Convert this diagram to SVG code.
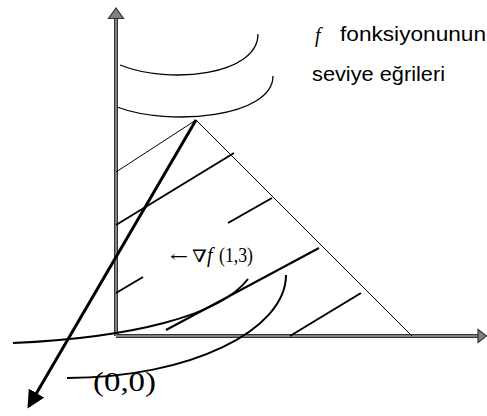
<svg xmlns="http://www.w3.org/2000/svg" width="487" height="416" viewBox="0 0 487 416">
<style>
.axo{stroke:#333;stroke-width:4;fill:none}
.axi{stroke:#808080;stroke-width:2;fill:none}
.head{fill:#808080;stroke:#333;stroke-width:1.2}
.thin{stroke:#000;stroke-width:1;fill:none}
.curve{stroke:#000;stroke-width:1.3;fill:none}
.curve2{stroke:#000;stroke-width:2;fill:none}
.hatch{stroke:#000;stroke-width:2;fill:none}
.sans{font-family:"Liberation Sans",Arial,sans-serif;font-size:20px;fill:#000}
.serif{font-family:"Liberation Serif","Times New Roman",serif;fill:#000}
</style>
<defs>
<marker id="ah" markerWidth="6" markerHeight="6" refX="5" refY="3" orient="auto" markerUnits="strokeWidth">
<path d="M0,0 L6,3 L0,6 Z" fill="#000"/>
</marker>
</defs>
<g id="axes">
<line class="axo" x1="116" y1="18" x2="116" y2="336"/>
<line class="axo" x1="116" y1="336" x2="478" y2="336"/>
<line class="axi" x1="116" y1="18" x2="116" y2="336"/>
<line class="axi" x1="116" y1="336" x2="478" y2="336"/>
<path class="head" d="M116,8 L123.5,18.5 L108.5,18.5 Z"/>
<path class="head" d="M486.5,336 L478,329.5 L478,342.5 Z"/>
</g>
<g id="level-curves">
<path class="curve" d="M120,65 C170,85 258,75 258,34"/>
<path class="curve" d="M117,107 C170,127 273,117 273,76"/>
<path class="curve2" d="M13,343 C130,338 220,316 248,279"/>
<path class="curve2" d="M67,378 C190,378 286,330 286,275"/>
</g>
<g id="triangle">
<path class="thin" d="M116,172 L196,120 L412,336"/>
</g>
<g id="hatching">
<line class="hatch" x1="116" y1="225" x2="234" y2="153"/>
<line class="hatch" x1="228" y1="223" x2="272" y2="198"/>
<line class="hatch" x1="116" y1="293" x2="143" y2="277"/>
<line class="hatch" x1="166" y1="330" x2="319" y2="248"/>
<line class="hatch" x1="290" y1="336" x2="361" y2="293"/>
</g>
<g id="connectors">
<line x1="196" y1="120" x2="29" y2="406" stroke="#000" stroke-width="3" marker-end="url(#ah)"/>
</g>
<g id="labels">
<text class="serif" x="315" y="42" font-size="20" font-style="italic">f</text>
<text class="sans" x="340" y="41" textLength="146" lengthAdjust="spacingAndGlyphs">fonksiyonunun</text>
<text class="sans" x="312" y="81" textLength="133" lengthAdjust="spacingAndGlyphs">seviye eğrileri</text>
<text class="serif" y="262" font-size="20"><tspan x="170" font-family="DejaVu Serif" font-size="16" textLength="18" lengthAdjust="spacingAndGlyphs">←</tspan><tspan x="192" font-family="DejaVu Serif" font-size="17" textLength="15" lengthAdjust="spacingAndGlyphs">∇</tspan><tspan x="207" font-style="italic">f</tspan><tspan x="219" textLength="34" lengthAdjust="spacingAndGlyphs">(1,3)</tspan></text>
<text class="serif" x="93" y="391" font-size="28" textLength="63" lengthAdjust="spacingAndGlyphs">(0,0)</text>
</g>
</svg>
